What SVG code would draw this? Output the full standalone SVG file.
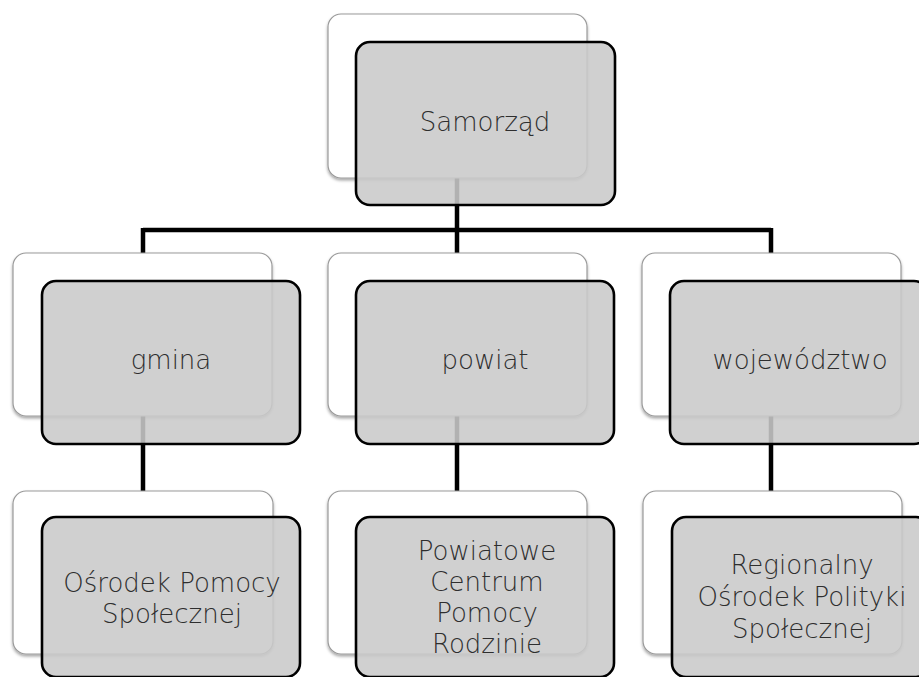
<svg xmlns="http://www.w3.org/2000/svg" width="919" height="677" viewBox="0 0 919 677">
<style>
.back{fill:#ffffff;stroke:#9a9a9a;stroke-width:1.2;filter:url(#sh)}
.front{fill:#c9c9c9;fill-opacity:0.88;stroke:#000;stroke-width:2.6}
.lbl{font-family:"DejaVu Sans","Open Sans",sans-serif;font-size:26px;font-weight:200;fill:#2e2e2e;text-anchor:middle}
.conn{stroke:#000;stroke-width:4.5;fill:none}
</style>
<defs>
<filter id="sh" x="-10%" y="-10%" width="120%" height="125%">
<feDropShadow dx="0" dy="2" stdDeviation="1.8" flood-color="#000" flood-opacity="0.35"/>
</filter>
</defs>
<rect width="919" height="677" fill="#fff"/>
<g id="connectors">
<path class="conn" d="M457 178V230M143 230H771M143 228V253M457 228V253M771 228V253"/>
<path class="conn" d="M143 416V491M457 416V491M771 416V491"/>
</g>
<g id="samorzad">
<rect class="back" x="328" y="14" width="259" height="164" rx="13"/>
<rect class="front" x="356" y="42" width="259" height="163" rx="14"/>
<text class="lbl" x="485" y="131">Samorząd</text>
</g>
<g id="gmina">
<rect class="back" x="13" y="253" width="259" height="163" rx="13"/>
<rect class="front" x="42" y="281" width="258" height="163" rx="14"/>
<text class="lbl" x="171" y="369">gmina</text>
</g>
<g id="powiat">
<rect class="back" x="328" y="253" width="259" height="163" rx="13"/>
<rect class="front" x="356" y="281" width="258" height="163" rx="14"/>
<text class="lbl" x="485" y="369">powiat</text>
</g>
<g id="wojewodztwo">
<rect class="back" x="642" y="253" width="259" height="163" rx="13"/>
<rect class="front" x="670" y="281" width="258" height="163" rx="14"/>
<text class="lbl" x="800" y="369">województwo</text>
</g>
<g id="ops">
<rect class="back" x="13" y="491" width="260" height="163" rx="13"/>
<rect class="front" x="42" y="517" width="258" height="160" rx="14"/>
<text class="lbl" x="172" y="592">Ośrodek Pomocy</text>
<text class="lbl" x="172" y="623">Społecznej</text>
</g>
<g id="pcpr">
<rect class="back" x="328" y="491" width="259" height="163" rx="13"/>
<rect class="front" x="356" y="517" width="258" height="160" rx="14"/>
<text class="lbl" x="487" y="560">Powiatowe</text>
<text class="lbl" x="487" y="591">Centrum</text>
<text class="lbl" x="487" y="622">Pomocy</text>
<text class="lbl" x="487" y="653">Rodzinie</text>
</g>
<g id="rops">
<rect class="back" x="643" y="491" width="259" height="163" rx="13"/>
<rect class="front" x="672" y="517" width="258" height="160" rx="14"/>
<text class="lbl" x="802" y="574">Regionalny</text>
<text class="lbl" x="802" y="606">Ośrodek Polityki</text>
<text class="lbl" x="802" y="638">Społecznej</text>
</g>
</svg>
